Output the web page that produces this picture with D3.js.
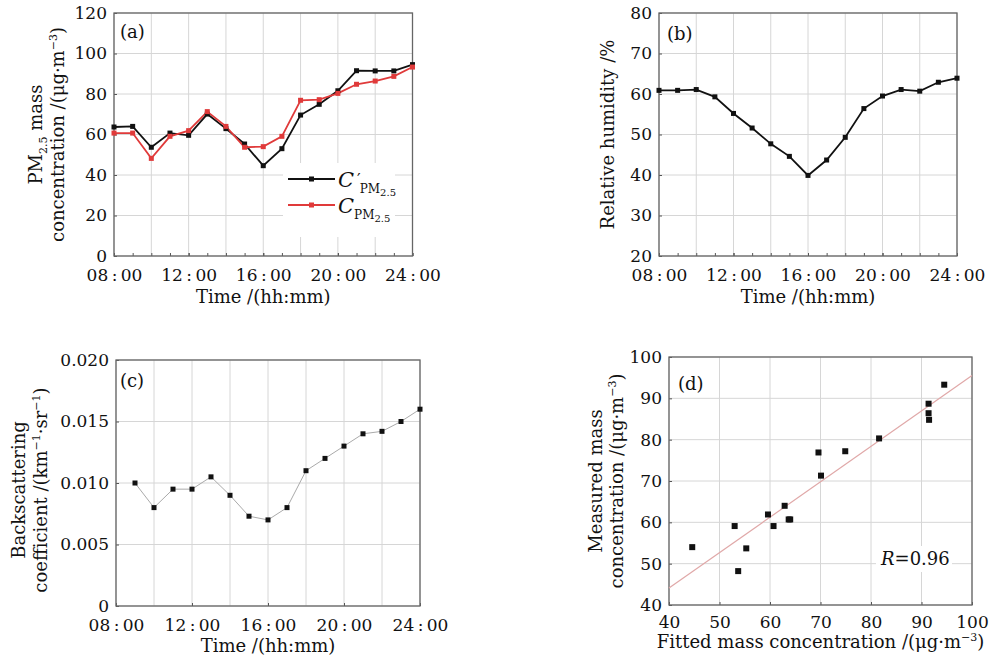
<!DOCTYPE html>
<html>
<head>
<meta charset="utf-8">
<script src="https://cdn.jsdelivr.net/npm/d3@7"></script>
<style>
  body { margin: 0; background: #fff; }
  svg text { font-family: "DejaVu Serif", serif; fill: #111; }
</style>
</head>
<body>
<div id="chart"></div>
<script>
// hours of the day, 08:00 .. 24:00
var hours = [8, 9, 10, 11, 12, 13, 14, 15, 16, 17, 18, 19, 20, 21, 22, 23, 24];
var timeTicks = [8, 12, 16, 20, 24];
var timeLabels = ["08:00", "12:00", "16:00", "20:00", "24:00"];

// (a) fitted C' and measured C of PM2.5 (ug/m3)
var pmFitted = [63.7, 64.0, 53.7, 60.7, 59.6, 70.1, 62.9, 55.3, 44.6, 53.0, 69.6, 74.9, 81.6, 91.5, 91.4, 91.4, 94.5];
var pmMeasured = [60.7, 60.7, 48.2, 59.1, 61.9, 71.3, 64.0, 53.7, 54.0, 59.1, 76.9, 77.2, 80.3, 84.8, 86.4, 88.7, 93.3];

// (b) relative humidity (%)
var humidity = [60.9, 60.9, 61.1, 59.3, 55.2, 51.6, 47.7, 44.6, 39.9, 43.7, 49.3, 56.4, 59.5, 61.1, 60.7, 62.9, 63.9];

// (c) backscattering coefficient, from 09:00
var backHours = [9, 10, 11, 12, 13, 14, 15, 16, 17, 18, 19, 20, 21, 22, 23, 24];
var backscatter = [0.0100, 0.0080, 0.0095, 0.0095, 0.0105, 0.0090, 0.0073, 0.0070, 0.0080, 0.0110, 0.0120, 0.0130, 0.0140, 0.0142, 0.0150, 0.0160];

var W = 996, H = 662;

var svg = d3.select("#chart")
  .append("svg")
    .attr("width", W)
    .attr("height", H);

svg.append("rect").attr("width", W).attr("height", H).attr("fill", "#fff");

function timeLabel(h) {
  return timeLabels[timeTicks.indexOf(h)].replace(":", "\u2009:\u2009");
}

// frame + grid + inward ticks for one panel
function panel(box, xDomain, yDomain, xGrid, yGrid, xTicks, xFormat, yFormat, xMinor, xPad) {
  var x = d3.scaleLinear().domain(xDomain).range([box.x0, box.x1]);
  var y = d3.scaleLinear().domain(yDomain).range([box.y1, box.y0]);
  var g = svg.append("g");

  g.selectAll(".gx").data(xGrid).enter().append("line")
    .attr("x1", function(d) { return x(d); }).attr("x2", function(d) { return x(d); })
    .attr("y1", box.y0).attr("y2", box.y1)
    .attr("stroke", "#d6d6d6").attr("stroke-width", 1);
  g.selectAll(".gy").data(yGrid).enter().append("line")
    .attr("y1", function(d) { return y(d); }).attr("y2", function(d) { return y(d); })
    .attr("x1", box.x0).attr("x2", box.x1)
    .attr("stroke", "#d6d6d6").attr("stroke-width", 1);

  g.append("g")
    .attr("transform", "translate(0," + box.y1 + ")")
    .call(d3.axisBottom(x).tickValues(xTicks).tickFormat(xFormat).tickSize(-3).tickPadding(xPad));
  if (xMinor) {
    g.append("g")
      .attr("transform", "translate(0," + box.y1 + ")")
      .call(d3.axisBottom(x).tickValues(xMinor).tickFormat("").tickSize(-3));
  }
  g.append("g")
    .attr("transform", "translate(" + box.x0 + ",0)")
    .call(d3.axisLeft(y).tickValues(yGrid).tickFormat(yFormat).tickSize(-3).tickPadding(7));

  g.selectAll(".domain").remove();
  g.selectAll(".tick line").attr("stroke", "#555");
  g.selectAll(".tick text").attr("font-size", 17).attr("font-family", "DejaVu Serif").attr("fill", "#111");

  g.append("rect")
    .attr("x", box.x0).attr("y", box.y0)
    .attr("width", box.x1 - box.x0).attr("height", box.y1 - box.y0)
    .attr("fill", "none").attr("stroke", "#666").attr("stroke-width", 1.3);

  return { x: x, y: y, g: g };
}

function series(p, xs, ys, color, width) {
  var pts = xs.map(function(h, i) { return [h, ys[i]]; });
  p.g.append("path")
    .datum(pts)
    .attr("fill", "none")
    .attr("stroke", color)
    .attr("stroke-width", width)
    .attr("d", d3.line()
      .x(function(d) { return p.x(d[0]); })
      .y(function(d) { return p.y(d[1]); }));
  return pts;
}

function markers(p, pts, color, size) {
  p.g.selectAll(null).data(pts).enter().append("rect")
    .attr("x", function(d) { return p.x(d[0]) - size / 2; })
    .attr("y", function(d) { return p.y(d[1]) - size / 2; })
    .attr("width", size).attr("height", size)
    .attr("fill", color);
}

function rotLabel(x, y) {
  return svg.append("text")
    .attr("transform", "translate(" + x + "," + y + ") rotate(-90)")
    .attr("text-anchor", "middle")
    .attr("font-size", 18);
}

function unitLabel(t, pre) {
  t.append("tspan").text(pre + "/(\u03bcg\u00b7m");
  t.append("tspan").attr("dy", -7).attr("font-size", 11).text("\u22123");
  t.append("tspan").attr("dy", 7).text(")");
}

function xTitle(box, txt, dy) {
  return svg.append("text")
    .attr("x", (box.x0 + box.x1) / 2).attr("y", box.y1 + dy)
    .attr("text-anchor", "middle").attr("font-size", 18)
    .text(txt);
}

function tag(x, y, txt) {
  svg.append("text").attr("x", x).attr("y", y).attr("font-size", 18).text(txt);
}

// ---------- (a)
var boxA = { x0: 114, x1: 412.5, y0: 13, y1: 256 };
var pa = panel(boxA, [8, 24], [0, 120], [8, 10, 12, 14, 16, 18, 20, 22, 24],
  [0, 20, 40, 60, 80, 100, 120], timeTicks, timeLabel, d3.format("d"), hours, 13);
var blk = series(pa, hours, pmFitted, "#111", 1.8);
var red = series(pa, hours, pmMeasured, "#e03a3a", 1.8);
markers(pa, blk, "#111", 5);
markers(pa, red, "#e03a3a", 5);
tag(120, 38, "(a)");

// legend
svg.append("rect").attr("x", 283).attr("y", 163).attr("width", 112).attr("height", 74).attr("fill", "#fff");
var legend = [
  { color: "#111", prime: true, y: 179 },
  { color: "#e03a3a", prime: false, y: 205 }
];
legend.forEach(function(l) {
  svg.append("line").attr("x1", 288).attr("x2", 335).attr("y1", l.y).attr("y2", l.y)
    .attr("stroke", l.color).attr("stroke-width", 1.8);
  svg.append("rect").attr("x", 309).attr("y", l.y - 2.5).attr("width", 5).attr("height", 5).attr("fill", l.color);
  var t = svg.append("text").attr("x", 338).attr("y", l.y + 8).attr("font-size", 21);
  t.append("tspan").attr("font-style", "italic").text("C");
  if (l.prime) {
    t.append("tspan").attr("font-size", 16).attr("dx", 3).attr("dy", -2).text("\u2032");
    t.append("tspan").attr("font-size", 12).attr("dx", -1).attr("dy", 8).text("PM");
  } else {
    t.append("tspan").attr("font-size", 12).attr("dy", 6).text("PM");
  }
  t.append("tspan").attr("font-size", 10).attr("dy", 3).text("2.5");
});

var la1 = rotLabel(42, 134.5);
la1.append("tspan").text("PM");
la1.append("tspan").attr("dy", 5).attr("font-size", 11).text("2.5");
la1.append("tspan").attr("dy", -5).text(" mass");
unitLabel(rotLabel(64, 134.5), "concentration ");
xTitle(boxA, "Time /(hh:mm)", 47);

// ---------- (b)
var boxB = { x0: 659, x1: 957, y0: 13, y1: 256 };
var pb = panel(boxB, [8, 24], [20, 80], [8, 10, 12, 14, 16, 18, 20, 22, 24],
  [20, 30, 40, 50, 60, 70, 80], timeTicks, timeLabel, d3.format("d"), hours, 13);
var hum = series(pb, hours, humidity, "#111", 1.8);
markers(pb, hum, "#111", 5);
tag(667, 40, "(b)");
rotLabel(614, 134.5).text("Relative humidity /%");
xTitle(boxB, "Time /(hh:mm)", 47);

// ---------- (c)
var boxC = { x0: 116, x1: 420, y0: 360, y1: 606 };
var pc = panel(boxC, [8, 24], [0, 0.02], [8, 10, 12, 14, 16, 18, 20, 22, 24],
  [0, 0.005, 0.01, 0.015, 0.02], timeTicks, timeLabel,
  function(d) { return d === 0 ? "0" : d3.format(".3f")(d); }, null, 13);
var bs = series(pc, backHours, backscatter, "#aaa", 1);
markers(pc, bs, "#111", 5);
tag(120, 387, "(c)");
rotLabel(25, 490).text("Backscattering");
var lc2 = rotLabel(47, 490);
lc2.append("tspan").text("coefficient /(km");
lc2.append("tspan").attr("dy", -7).attr("font-size", 11).text("\u22121");
lc2.append("tspan").attr("dy", 7).text("\u00b7sr");
lc2.append("tspan").attr("dy", -7).attr("font-size", 11).text("\u22121");
lc2.append("tspan").attr("dy", 7).text(")");
xTitle(boxC, "Time /(hh:mm)", 46);

// ---------- (d)
var boxD = { x0: 669, x1: 972, y0: 357, y1: 605 };
var tens = [40, 50, 60, 70, 80, 90, 100];
var pd = panel(boxD, [40, 100], [40, 100], tens, tens, tens, d3.format("d"), d3.format("d"), null, 11);

// least squares fit of measured on fitted
var mx = d3.mean(pmFitted), my = d3.mean(pmMeasured);
var sxy = d3.sum(pmFitted, function(v, i) { return (v - mx) * (pmMeasured[i] - my); });
var sxx = d3.sum(pmFitted, function(v) { return (v - mx) * (v - mx); });
var slope = sxy / sxx, icpt = my - slope * mx;
pd.g.append("line")
  .attr("x1", pd.x(40)).attr("y1", pd.y(icpt + slope * 40))
  .attr("x2", pd.x(100)).attr("y2", pd.y(icpt + slope * 100))
  .attr("stroke", "#e0a8a8").attr("stroke-width", 1.2);

var scat = pmFitted.map(function(v, i) { return [v, pmMeasured[i]]; });
markers(pd, scat, "#111", 6);
tag(678, 390, "(d)");

svg.append("rect").attr("x", 876).attr("y", 546).attr("width", 76).attr("height", 26).attr("fill", "#fff");
var rt = svg.append("text").attr("x", 881).attr("y", 565).attr("font-size", 18);
rt.append("tspan").attr("font-style", "italic").text("R");
rt.append("tspan").text("=0.96");

rotLabel(602, 481).text("Measured mass");
unitLabel(rotLabel(623, 481), "concentration ");
var xd = xTitle(boxD, "", 43);
unitLabel(xd, "Fitted mass concentration ");
</script>
</body>
</html>
